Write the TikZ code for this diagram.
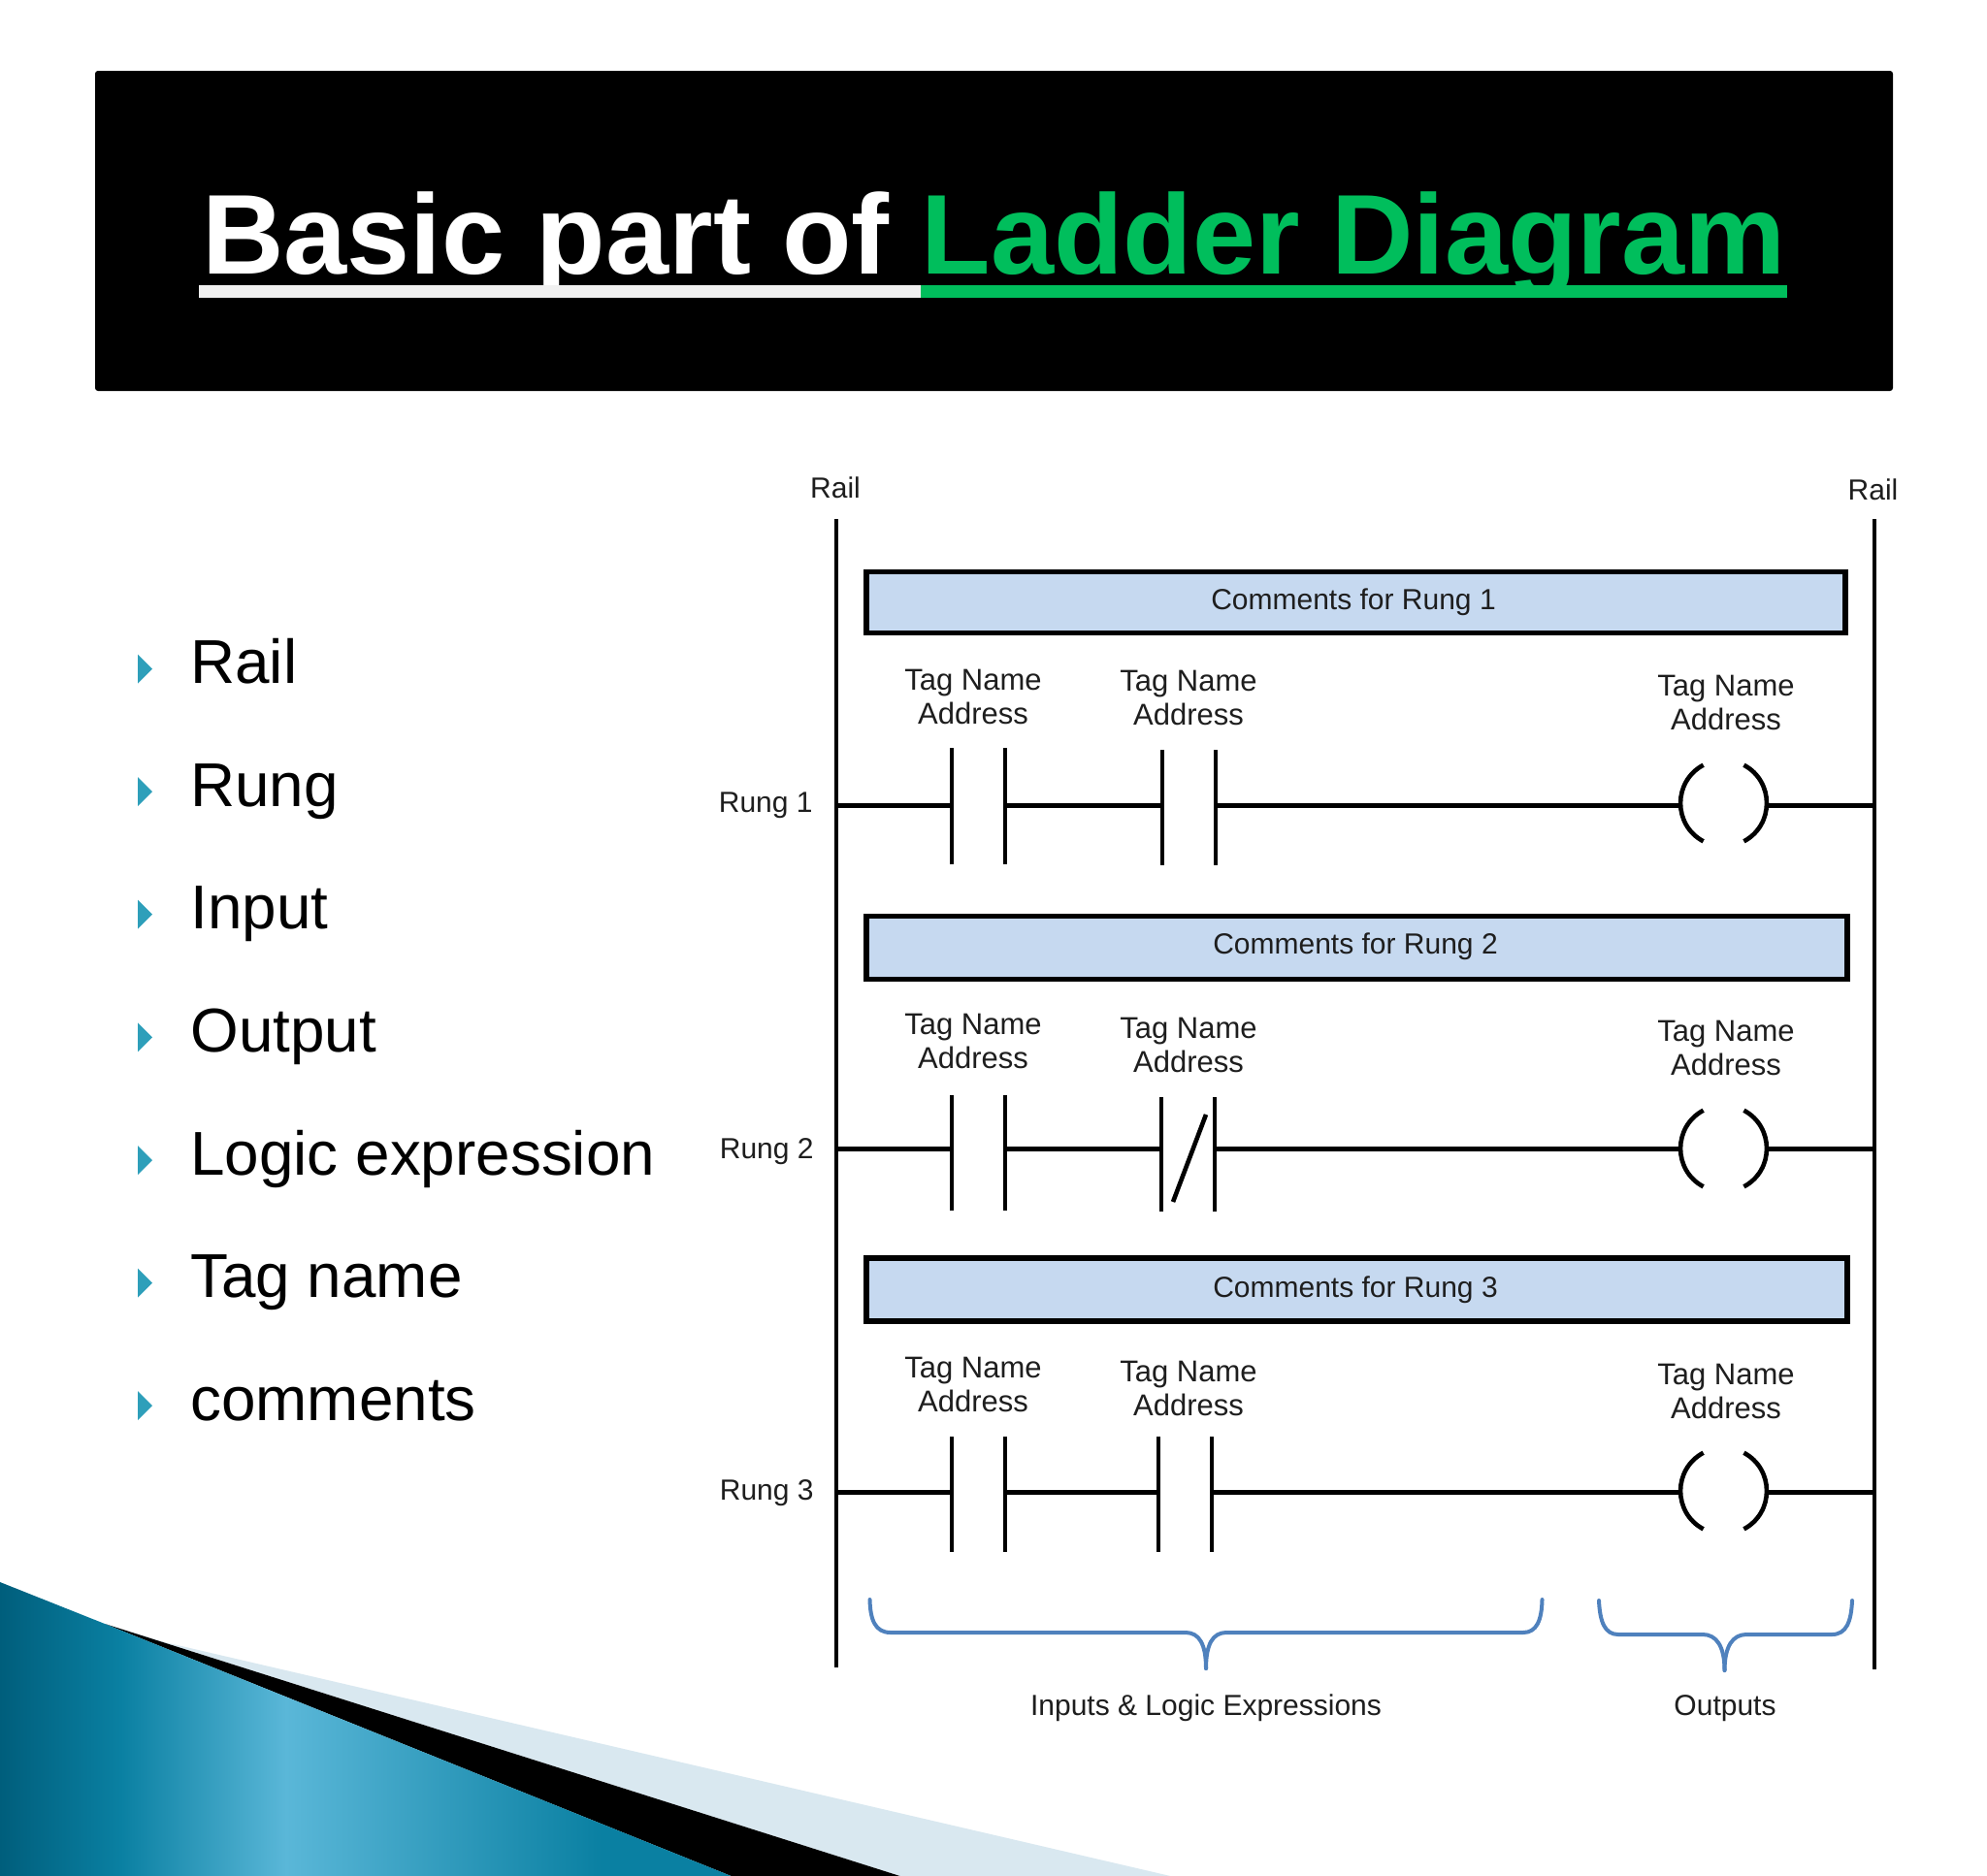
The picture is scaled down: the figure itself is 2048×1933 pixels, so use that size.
\documentclass[tikz,border=0pt]{standalone}
\usepackage{fontspec}
\setmainfont{Liberation Sans}
\definecolor{inkc}{HTML}{1E1E1E}
\definecolor{boxfill}{HTML}{C6D9F0}
\definecolor{bracec}{HTML}{4F81BD}
\definecolor{bulletc}{HTML}{2E9FBA}
\definecolor{greenc}{HTML}{00BE5C}
\definecolor{lightc}{HTML}{D9E8F0}
\definecolor{t0}{HTML}{005E7C}
\definecolor{t1}{HTML}{0A80A2}
\definecolor{t2}{HTML}{5AB7D8}
\pgfdeclarehorizontalshading{tealsh}{100bp}{color(0bp)=(t0); color(25bp)=(t0); color(33bp)=(t1); color(44bp)=(t2); color(65bp)=(t1); color(75bp)=(t1); color(100bp)=(t1)}
\tikzset{
  x=0.5pt,y=-0.5pt,
  wire/.style={line width=2.5pt,black},
  contact/.style={line width=2.3pt,black},
  rail/.style={line width=2.3pt,black},
  commentbox/.style={rectangle,draw=black,fill=boxfill,line width=2.6pt,inner sep=0pt,text=inkc,font=\fontsize{15}{18}\selectfont},
  lbl/.style={text=inkc,font=\fontsize{15}{18}\selectfont,inner sep=0pt},
  tag/.style={lbl,align=center,font=\fontsize{15.5}{17.5}\selectfont},
  bulletmark/.style={fill=bulletc,draw=none},
  listitem/.style={anchor=base west,inner sep=0pt,text=black,font=\fontsize{31.9}{38}\selectfont},
  bracecurve/.style={line width=2pt,bracec,line cap=round,line join=round},
}
\newcommand{\coilpair}[2]{%
  \draw[contact] (#1-20.9,#2-39.3) .. controls (#1-52.3,#2-22.6) and (#1-52.3,#2+22.6) .. (#1-20.9,#2+39.3);
  \draw[contact] (#1+20.9,#2-39.3) .. controls (#1+52.3,#2-22.6) and (#1+52.3,#2+22.6) .. (#1+20.9,#2+39.3);
}
\begin{document}
\begin{tikzpicture}
\useasboundingbox (0,0) rectangle (2048,1933);
\fill[white] (0,0) rectangle (2048,1933);
% banner
\fill[black,rounded corners=1.5pt] (98,73) rectangle (1951,403);
\node[anchor=base west,inner sep=0pt,text=white,font=\fontsize{58.5}{70}\bfseries\selectfont] (title) at (208,282) {Basic part of \textcolor{greenc}{Ladder Diagram}};
\fill[white!94!black] (205,294) rectangle (949,307);
\fill[greenc] (949,294) rectangle (1842,307);
% bottom-left decoration
\fill[lightc] (170,1693) -- (1245,1943) -- (956,1943) -- (108,1674) -- cycle;
\fill[black] (108,1674) -- (956,1943) -- (776,1943) -- cycle;
\shade[shading=tealsh] (0,1631) -- (108,1674) -- (776,1943) -- (0,1943) -- cycle;
% list
\foreach \yy/\tt in {704.5/Rail,831/Rung,957.7/Input,1084.3/Output,1211/Logic expression,1337.5/Tag name,1464/comments}{
  \fill[bulletmark] (142,\yy-30) -- (157,\yy-15) -- (142,\yy) -- cycle;
  \node[listitem] at (196,\yy) {\tt};
}
% rails
\coordinate (lt) at (862,535); \coordinate (lb) at (862,1719);
\coordinate (rt) at (1932,535); \coordinate (rb) at (1932,1721);
\draw[rail] (lt) -- (lb);
\draw[rail] (rt) -- (rb);
\node[lbl] (railL) at (861,503) {Rail};
\node[lbl] (railR) at (1930.5,505) {Rail};
% comment boxes
\node[commentbox,minimum width=1009pt*0.5,minimum height=63pt*0.5] (c1) at (1397.5,621) {};
\node[lbl] at (1395,621) {Comments for Rung 1};
\node[commentbox,minimum width=1011pt*0.5,minimum height=65pt*0.5] (c2) at (1398.5,977) {};
\node[lbl] at (1397,976) {Comments for Rung 2};
\node[commentbox,minimum width=1011pt*0.5,minimum height=65pt*0.5] (c3) at (1398.5,1329.5) {};
\node[lbl] at (1397,1330) {Comments for Rung 3};
% rung 1
\node[lbl,anchor=east] (r1) at (838,830) {Rung 1};
\draw[wire] (lt |- 0,830) -- (981,830);
\draw[wire] (1036,830) -- (1198,830);
\draw[wire] (1253,830) -- (1732,830);
\draw[wire] (1821,830) -- (rt |- 0,830);
\draw[contact] (981,771) -- (981,891);
\draw[contact] (1036,771) -- (1036,891);
\draw[contact] (1198,773) -- (1198,892);
\draw[contact] (1253,773) -- (1253,892);
\coilpair{1776.5}{828}
\node[tag] at (1003,718) {Tag Name\\Address};
\node[tag] at (1225,719) {Tag Name\\Address};
\node[tag] at (1779,724) {Tag Name\\Address};
% rung 2
\node[lbl,anchor=east] (r2) at (839,1187) {Rung 2};
\draw[wire] (lt |- 0,1184) -- (981,1184);
\draw[wire] (1036,1184) -- (1197,1184);
\draw[wire] (1252,1184) -- (1732,1184);
\draw[wire] (1821,1184) -- (rt |- 0,1184);
\draw[contact] (981,1129) -- (981,1248);
\draw[contact] (1036,1129) -- (1036,1248);
\draw[contact] (1197,1131) -- (1197,1249);
\draw[contact] (1252,1131) -- (1252,1249);
\draw[contact] (1243,1149) -- (1209,1239);
\coilpair{1776.5}{1184}
\node[tag] at (1003,1073) {Tag Name\\Address};
\node[tag] at (1225,1077) {Tag Name\\Address};
\node[tag] at (1779,1080) {Tag Name\\Address};
% rung 3
\node[lbl,anchor=east] (r3) at (839,1539.5) {Rung 3};
\draw[wire] (lt |- 0,1538) -- (981,1538);
\draw[wire] (1036,1538) -- (1194,1538);
\draw[wire] (1249,1538) -- (1732,1538);
\draw[wire] (1821,1538) -- (rt |- 0,1538);
\draw[contact] (981,1481) -- (981,1600);
\draw[contact] (1036,1481) -- (1036,1600);
\draw[contact] (1194,1481) -- (1194,1600);
\draw[contact] (1249,1481) -- (1249,1600);
\coilpair{1776.5}{1537}
\node[tag] at (1003,1427) {Tag Name\\Address};
\node[tag] at (1225,1431) {Tag Name\\Address};
\node[tag] at (1779,1434) {Tag Name\\Address};
% braces
\draw[bracecurve] (896.5,1649) .. controls (897,1670) and (902,1683) .. (918,1683) -- (1222,1683) .. controls (1236,1683) and (1243,1695) .. (1243,1720);
\draw[bracecurve] (1589.5,1649) .. controls (1589,1670) and (1584,1683) .. (1570,1683) -- (1264,1683) .. controls (1250,1683) and (1243,1695) .. (1243,1720);
\draw[bracecurve] (1648,1650) .. controls (1649,1672) and (1654,1685) .. (1668,1685) -- (1755,1685) .. controls (1769,1685) and (1777.5,1697) .. (1777.5,1722);
\draw[bracecurve] (1909,1650) .. controls (1908,1672) and (1903,1685) .. (1888,1685) -- (1800,1685) .. controls (1786,1685) and (1777.5,1697) .. (1777.5,1722);
\node[lbl] (inp) at (1243,1761) {Inputs \& Logic Expressions};
\node[lbl] (outp) at (1778,1761) {Outputs};
\end{tikzpicture}
\end{document}
